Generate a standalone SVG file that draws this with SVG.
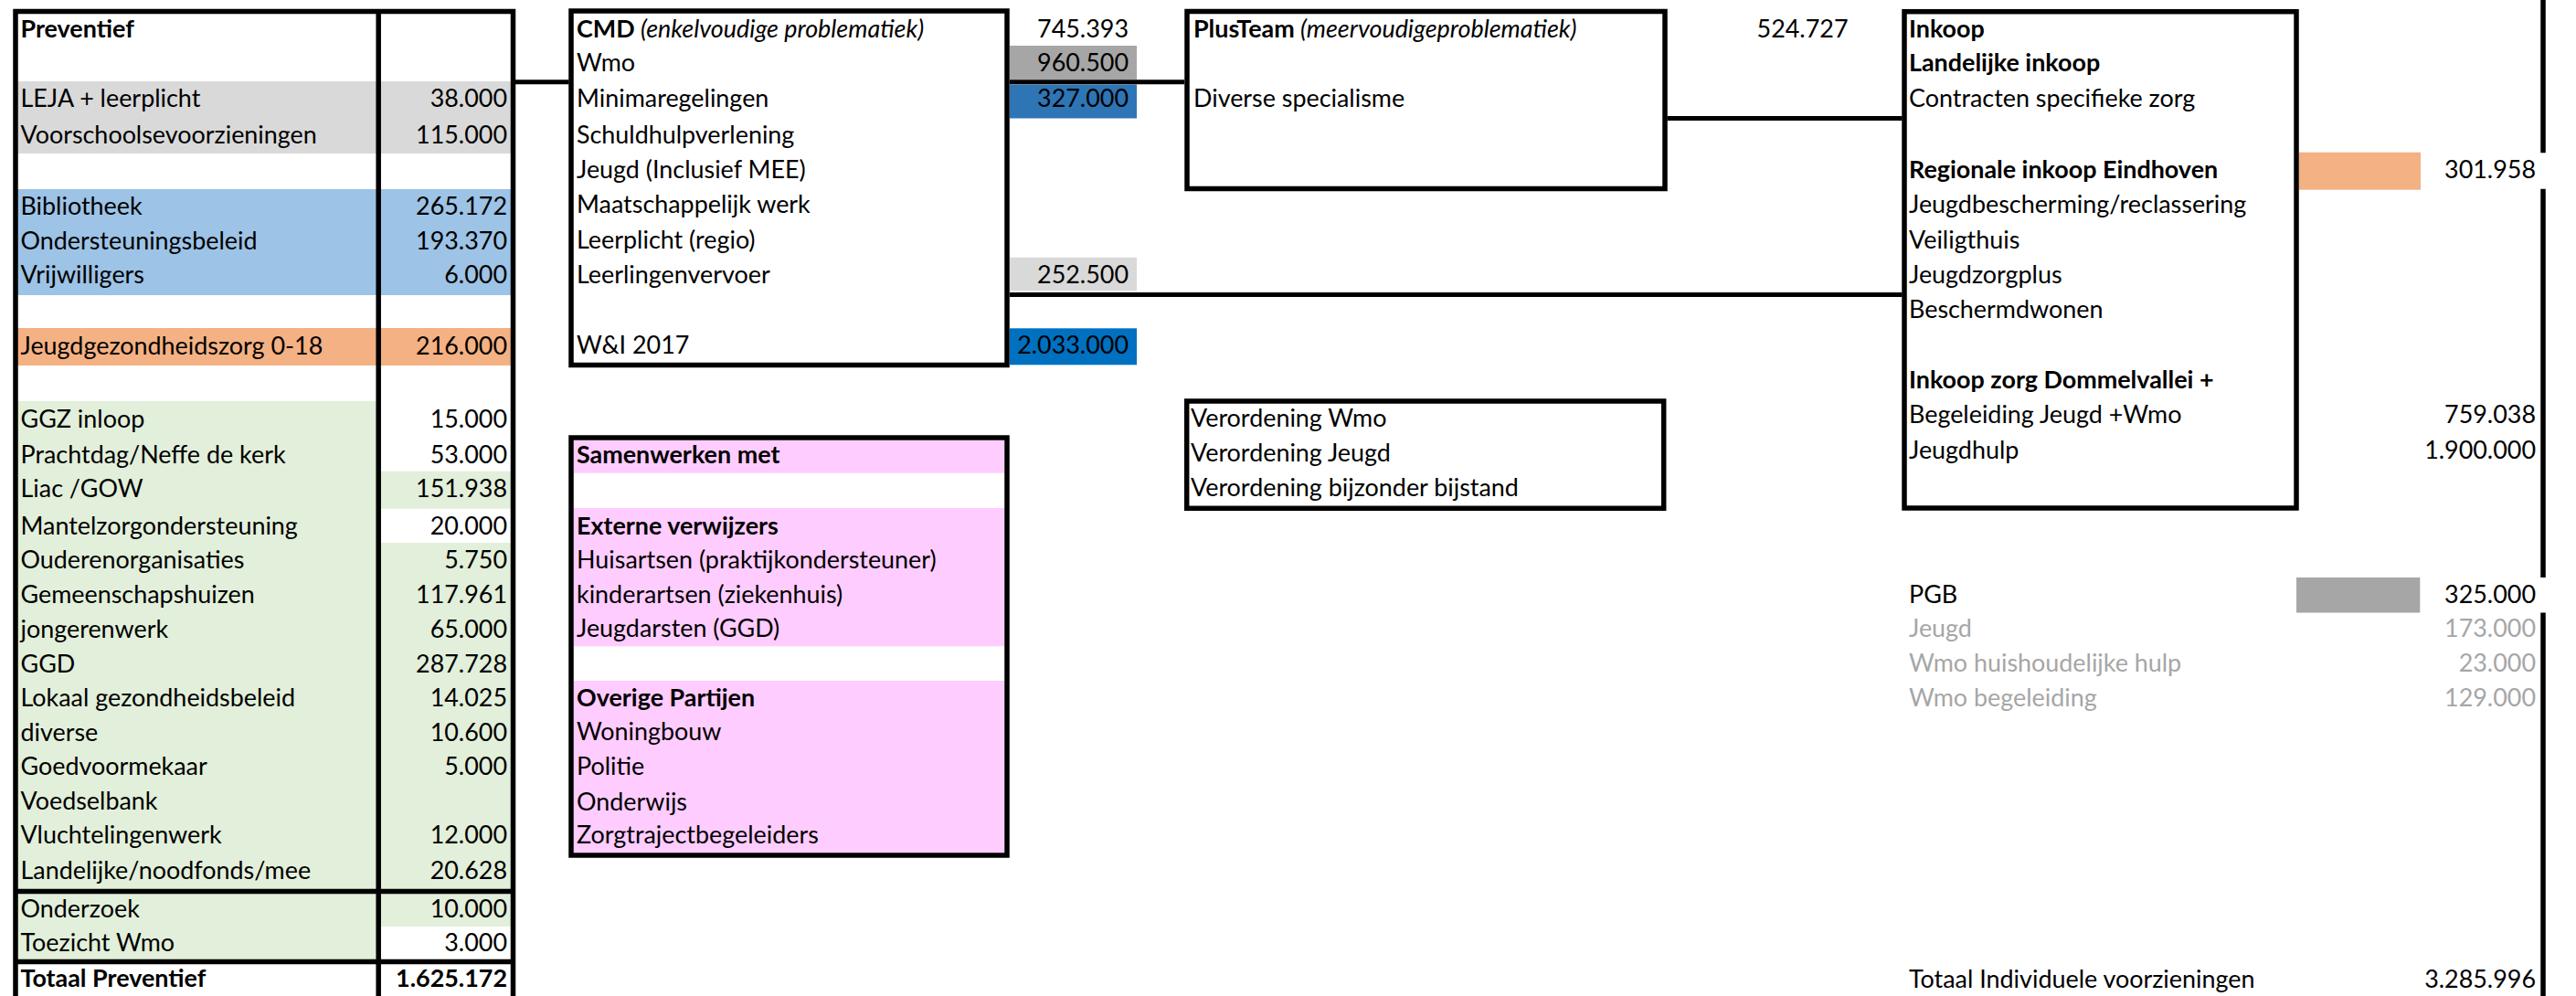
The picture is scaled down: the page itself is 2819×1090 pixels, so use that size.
<svg xmlns="http://www.w3.org/2000/svg" width="2819" height="1090" viewBox="0 0 2819 1090">
<style>
text { font-family: Lato, "Liberation Sans", sans-serif; font-size: 26.9px; fill: #000; }
.b { font-weight: bold; }
.i { font-style: italic; }
.r { text-anchor: end; }
.g { fill: #a6a6a6; }
.box { fill: none; stroke: #000; stroke-width: 5.5; }
.ln { fill: none; stroke: #000; stroke-width: 5.5; }
.con { fill: none; stroke: #000; stroke-width: 5; }
</style>
<rect width="2819" height="1090" fill="#fff"/>

<g id="preventief">
  <rect x="17" y="89" width="545" height="79" fill="#d9d9d9"/>
  <rect x="17" y="207" width="545" height="116" fill="#9dc3e6"/>
  <rect x="17" y="359" width="545" height="41" fill="#f4b183"/>
  <rect x="17" y="439" width="397" height="534" fill="#e2efda"/>
  <rect x="17" y="978" width="397" height="72" fill="#e2efda"/>
  <rect x="414" y="515.7" width="148" height="41" fill="#e2efda"/>
  <rect x="414" y="594" width="148" height="379" fill="#e2efda"/>
  <rect x="414" y="978" width="148" height="36" fill="#e2efda"/>
  <path class="ln" d="M17 10V1090M414.2 10V1090M561.5 10V1090M14.5 12.5H564.2M14.5 975.5H564.2M14.5 1052.5H564.2"/>
  <g>
    <text x="22.5" y="40.7" class="b">Preventief</text>
    <text x="22.5" y="117.3">LEJA + leerplicht</text>
    <text x="22.5" y="157.3">Voorschoolsevoorzieningen</text>
    <text x="22.5" y="235">Bibliotheek</text>
    <text x="22.5" y="273.3">Ondersteuningsbeleid</text>
    <text x="22.5" y="310">Vrijwilligers</text>
    <text x="22.5" y="387.7">Jeugdgezondheidszorg 0-18</text>
    <text x="22.5" y="467.7">GGZ inloop</text>
    <text x="22.5" y="506.7">Prachtdag/Neffe de kerk</text>
    <text x="22.5" y="544">Liac /GOW</text>
    <text x="22.5" y="585">Mantelzorgondersteuning</text>
    <text x="22.5" y="622.3">Ouderenorganisaties</text>
    <text x="22.5" y="660">Gemeenschapshuizen</text>
    <text x="22.5" y="698.3">jongerenwerk</text>
    <text x="22.5" y="735.7">GGD</text>
    <text x="22.5" y="773.3">Lokaal gezondheidsbeleid</text>
    <text x="22.5" y="810.7">diverse</text>
    <text x="22.5" y="848.3">Goedvoormekaar</text>
    <text x="22.5" y="885.7">Voedselbank</text>
    <text x="22.5" y="923.3">Vluchtelingenwerk</text>
    <text x="22.5" y="961.7">Landelijke/noodfonds/mee</text>
    <text x="22.5" y="1004">Onderzoek</text>
    <text x="22.5" y="1040.7">Toezicht Wmo</text>
    <text x="22.5" y="1080" class="b">Totaal Preventief</text>
  </g>
  <g class="vals">
    <text x="555" y="117.3" class="r">38.000</text>
    <text x="555" y="157.3" class="r">115.000</text>
    <text x="555" y="235" class="r">265.172</text>
    <text x="555" y="273.3" class="r">193.370</text>
    <text x="555" y="310" class="r">6.000</text>
    <text x="555" y="387.7" class="r">216.000</text>
    <text x="555" y="467.7" class="r">15.000</text>
    <text x="555" y="506.7" class="r">53.000</text>
    <text x="555" y="544" class="r">151.938</text>
    <text x="555" y="585" class="r">20.000</text>
    <text x="555" y="622.3" class="r">5.750</text>
    <text x="555" y="660" class="r">117.961</text>
    <text x="555" y="698.3" class="r">65.000</text>
    <text x="555" y="735.7" class="r">287.728</text>
    <text x="555" y="773.3" class="r">14.025</text>
    <text x="555" y="810.7" class="r">10.600</text>
    <text x="555" y="848.3" class="r">5.000</text>
    <text x="555" y="923.3" class="r">12.000</text>
    <text x="555" y="961.7" class="r">20.628</text>
    <text x="555" y="1004" class="r">10.000</text>
    <text x="555" y="1040.7" class="r">3.000</text>
    <text x="555" y="1080" class="r b">1.625.172</text>
  </g>
</g>

<g id="cmd">
  <rect x="1105" y="50" width="139" height="37.3" fill="#a6a6a6"/>
  <rect x="1105" y="92.5" width="139" height="37" fill="#2e75b6"/>
  <rect x="1105" y="281.7" width="139" height="36.6" fill="#d9d9d9"/>
  <rect x="1105" y="359.3" width="139" height="40" fill="#0070c0"/>
  <rect class="box" x="625" y="12" width="477" height="387.5"/>
  <text x="631" y="40.7"><tspan class="b">CMD</tspan><tspan class="i"> (enkelvoudige problematiek)</tspan></text>
  <text x="631" y="78.3">Wmo</text>
  <text x="631" y="116.7">Minimaregelingen</text>
  <text x="631" y="156.7">Schuldhulpverlening</text>
  <text x="631" y="195">Jeugd (Inclusief MEE)</text>
  <text x="631" y="233.3">Maatschappelijk werk</text>
  <text x="631" y="271.7">Leerplicht (regio)</text>
  <text x="631" y="310">Leerlingenvervoer</text>
  <text x="631" y="386.7">W&amp;I 2017</text>
  <text x="1235" y="40.7" class="r">745.393</text>
  <text x="1235" y="78.3" class="r">960.500</text>
  <text x="1235" y="116.7" class="r">327.000</text>
  <text x="1235" y="310" class="r">252.500</text>
  <text x="1235" y="386.7" class="r">2.033.000</text>
</g>

<g id="samenwerken">
  <rect x="628" y="481.7" width="471" height="36" fill="#ffccff"/>
  <rect x="628" y="556" width="471" height="151.3" fill="#ffccff"/>
  <rect x="628" y="745" width="471" height="188.3" fill="#ffccff"/>
  <rect class="box" x="625" y="479" width="477" height="457"/>
  <text x="631" y="507.3" class="b">Samenwerken met</text>
  <text x="631" y="585" class="b">Externe verwijzers</text>
  <text x="631" y="621.7">Huisartsen (praktijkondersteuner)</text>
  <text x="631" y="660">kinderartsen (ziekenhuis)</text>
  <text x="631" y="696.7">Jeugdarsten (GGD)</text>
  <text x="631" y="773.3" class="b">Overige Partijen</text>
  <text x="631" y="810">Woningbouw</text>
  <text x="631" y="848.3">Politie</text>
  <text x="631" y="886.7">Onderwijs</text>
  <text x="631" y="923.3">Zorgtrajectbegeleiders</text>
</g>

<g id="plusteam">
  <rect class="box" x="1299" y="12.5" width="523" height="194"/>
  <text x="1306" y="40.7"><tspan class="b">PlusTeam</tspan><tspan class="i"> (meervoudigeproblematiek)</tspan></text>
  <text x="1306" y="116.7">Diverse specialisme</text>
  <text x="2022.5" y="40.7" class="r">524.727</text>
</g>

<g id="verordening">
  <rect class="box" x="1298.7" y="439" width="522" height="117.3"/>
  <text x="1303" y="466.7">Verordening Wmo</text>
  <text x="1303" y="505">Verordening Jeugd</text>
  <text x="1303" y="543.3">Verordening bijzonder bijstand</text>
</g>

<g id="inkoop">
  <rect x="2515.7" y="166.7" width="133.3" height="41" fill="#f4b183"/>
  <rect x="2513" y="632" width="135.3" height="38.5" fill="#a6a6a6"/>
  <rect class="box" x="2084" y="12.7" width="429" height="543.3"/>
  <path class="ln" d="M2783 0V167.3M2783 206.7V632M2783 670.5V1090"/>
  <text x="2089" y="40.7" class="b">Inkoop</text>
  <text x="2089" y="78.3" class="b">Landelijke inkoop</text>
  <text x="2089" y="116.7">Contracten specifieke zorg</text>
  <text x="2089" y="195" class="b">Regionale inkoop Eindhoven</text>
  <text x="2089" y="233.3">Jeugdbescherming/reclassering</text>
  <text x="2089" y="271.7">Veiligthuis</text>
  <text x="2089" y="310">Jeugdzorgplus</text>
  <text x="2089" y="348.3">Beschermdwonen</text>
  <text x="2089" y="425" class="b">Inkoop zorg Dommelvallei +</text>
  <text x="2089" y="463.3">Begeleiding Jeugd +Wmo</text>
  <text x="2089" y="501.7">Jeugdhulp</text>
  <text x="2775" y="195" class="r">301.958</text>
  <text x="2775" y="463.3" class="r">759.038</text>
  <text x="2775" y="501.7" class="r">1.900.000</text>
</g>

<g id="individueel">
  <text x="2089" y="659.7">PGB</text>
  <text x="2089" y="697" class="g">Jeugd</text>
  <text x="2089" y="735" class="g">Wmo huishoudelijke hulp</text>
  <text x="2089" y="773" class="g">Wmo begeleiding</text>
  <text x="2089" y="1080.6">Totaal Individuele voorzieningen</text>
  <text x="2775" y="659.7" class="r">325.000</text>
  <text x="2775" y="697" class="r g">173.000</text>
  <text x="2775" y="735" class="r g">23.000</text>
  <text x="2775" y="773" class="r g">129.000</text>
  <text x="2775" y="1080.6" class="r">3.285.996</text>
</g>

<g id="connectors">
  <path class="con" d="M564 89.8H622.5"/>
  <path class="con" d="M1105 89.8H1296"/>
  <path class="con" d="M1824.5 129.5H2081.5"/>
  <path class="con" d="M1105 322.5H2081.5"/>
</g>
</svg>
